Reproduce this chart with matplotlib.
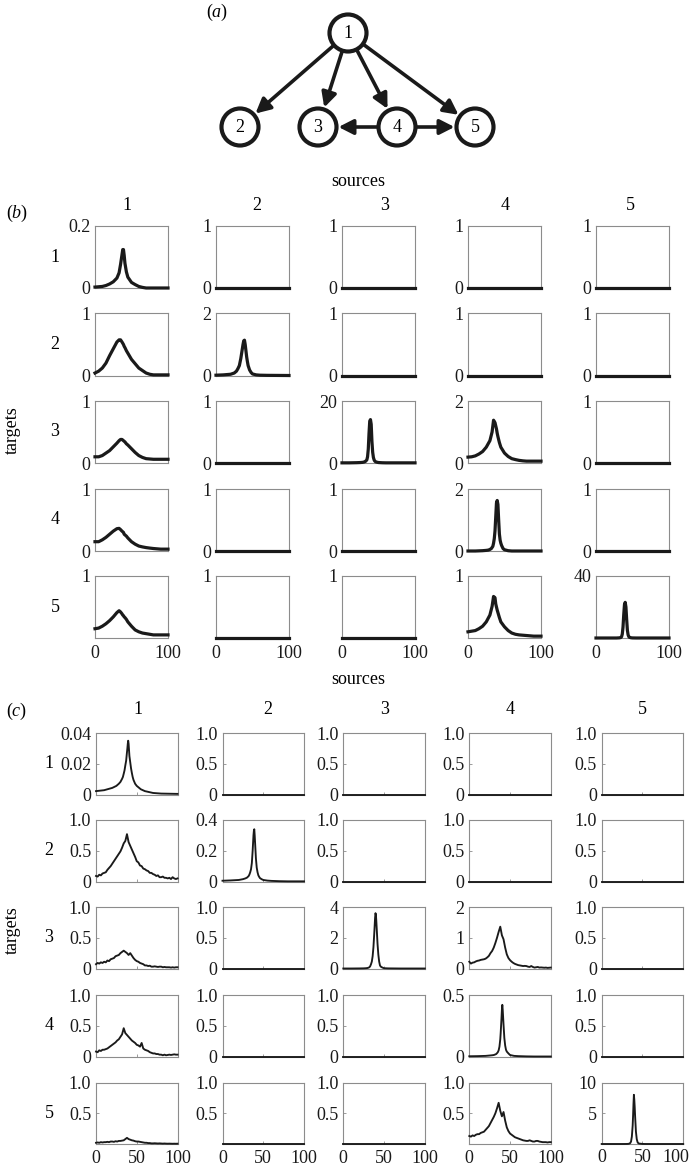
import numpy as np
import matplotlib
matplotlib.use("Agg")
import matplotlib.pyplot as plt
from matplotlib.patches import Circle, FancyArrowPatch

plt.rcParams['font.family'] = ['Liberation Serif', 'DejaVu Serif']
plt.rcParams['mathtext.fontset'] = 'custom'
plt.rcParams['mathtext.rm'] = 'Liberation Serif'
plt.rcParams['mathtext.it'] = 'Liberation Serif:italic'

W, H = 694, 1168
INK = '#1a1a1a'
FRAME = '#8c8c8c'
FS = 13

# ---- (a) network ----
nodes = [1, 2, 3, 4, 5]
edges = [(1, 2), (1, 3), (1, 4), (1, 5), (4, 3), (4, 5)]

# ---- (b) curves, sources in columns, targets in rows ----
xb_wide = [0, 5, 10, 15, 20, 25, 30, 33, 35, 37, 38, 39, 40, 41, 43, 45, 50, 55, 60, 65, 70, 75, 80, 90, 100]
b11 = [0.003, 0.004, 0.005, 0.008, 0.013, 0.02, 0.032, 0.049, 0.076, 0.108, 0.124, 0.124, 0.105, 0.08, 0.052,
       0.035, 0.018, 0.011, 0.005, 0.002, 0, 0, 0, 0, 0]
b21 = [0.04, 0.07, 0.12, 0.2, 0.32, 0.43, 0.54, 0.575, 0.575, 0.54, 0.52, 0.5, 0.47, 0.45, 0.4,
       0.36, 0.26, 0.19, 0.12, 0.08, 0.04, 0.02, 0.01, 0.01, 0.01]
b31 = [0.1, 0.1, 0.12, 0.16, 0.2, 0.26, 0.32, 0.36, 0.38, 0.38, 0.37, 0.36, 0.35, 0.34, 0.31,
       0.29, 0.23, 0.17, 0.12, 0.09, 0.07, 0.065, 0.06, 0.06, 0.06]
b41 = [0.15, 0.15, 0.18, 0.22, 0.27, 0.32, 0.36, 0.365, 0.345, 0.32, 0.31, 0.3, 0.27, 0.26, 0.24,
       0.21, 0.15, 0.11, 0.08, 0.066, 0.055, 0.047, 0.04, 0.03, 0.03]
b51 = [0.15, 0.16, 0.19, 0.23, 0.28, 0.34, 0.41, 0.44, 0.42, 0.39, 0.37, 0.36, 0.34, 0.33, 0.3,
       0.26, 0.19, 0.13, 0.1, 0.08, 0.07, 0.06, 0.05, 0.05, 0.05]
b34 = [0.19, 0.2, 0.23, 0.29, 0.37, 0.51, 0.72, 1.0, 1.38, 1.3, 1.2, 1.1, 0.96, 0.85, 0.66,
       0.51, 0.32, 0.21, 0.14, 0.11, 0.085, 0.07, 0.06, 0.06, 0.06]
b54 = [0.1, 0.11, 0.12, 0.15, 0.19, 0.26, 0.37, 0.51, 0.67, 0.65, 0.55, 0.5, 0.45, 0.41, 0.33,
       0.26, 0.18, 0.12, 0.08, 0.06, 0.05, 0.045, 0.04, 0.03, 0.03]

xb_narrow = [0, 10, 20, 25, 28, 30, 32, 34, 35, 36, 37, 38, 39, 40, 41, 42, 43, 44, 45, 46, 48, 50, 55, 60, 70, 100]
b22 = [0.01, 0.02, 0.04, 0.08, 0.14, 0.22, 0.32, 0.55, 0.7, 0.85, 1.0, 1.12, 1.14, 1.0, 0.8, 0.6, 0.45,
       0.32, 0.25, 0.18, 0.1, 0.05, 0.02, 0.01, 0.005, 0]
b33 = [0.05, 0.05, 0.1, 0.15, 0.2, 0.3, 0.5, 1.0, 2.0, 4.5, 9.5, 13.5, 14.0, 12.5, 7.0, 3.5, 1.8,
       1.0, 0.6, 0.4, 0.25, 0.15, 0.08, 0.05, 0.05, 0.05]
b44 = [0, 0, 0.01, 0.02, 0.03, 0.05, 0.08, 0.15, 0.25, 0.4, 0.65, 1.1, 1.55, 1.63, 1.5, 1.0, 0.55,
       0.35, 0.25, 0.18, 0.08, 0.04, 0.01, 0, 0, 0]
b55 = [0, 0, 0, 0, 0, 0.05, 0.1, 0.3, 0.8, 2.5, 7, 15, 21.5, 23, 20, 12, 5,
       2, 0.8, 0.4, 0.15, 0.05, 0, 0, 0, 0]

# ---- (c) curves ----
xc_wide = list(range(0, 101, 2))
c21 = [0.09, 0.08, 0.11, 0.1, 0.13, 0.14, 0.15, 0.19, 0.22, 0.25, 0.29, 0.33, 0.37, 0.41, 0.45, 0.49, 0.55,
       0.62, 0.66, 0.77, 0.64, 0.58, 0.52, 0.46, 0.4, 0.33, 0.31, 0.26, 0.25, 0.21, 0.2, 0.18, 0.17, 0.14,
       0.14, 0.12, 0.11, 0.09, 0.1, 0.07, 0.07, 0.08, 0.06, 0.06, 0.05, 0.06, 0.04, 0.07, 0.05, 0.04, 0.05]
c31 = [0.07, 0.09, 0.08, 0.1, 0.09, 0.11, 0.1, 0.13, 0.12, 0.15, 0.16, 0.17, 0.2, 0.21, 0.22, 0.25, 0.27,
       0.29, 0.27, 0.25, 0.22, 0.25, 0.21, 0.17, 0.14, 0.12, 0.11, 0.09, 0.08, 0.07, 0.05, 0.05, 0.04, 0.045,
       0.03, 0.03, 0.035, 0.03, 0.025, 0.03, 0.03, 0.02, 0.025, 0.02, 0.02, 0.02, 0.015, 0.02, 0.015, 0.02, 0.02]
c41 = [0.08, 0.07, 0.1, 0.09, 0.11, 0.11, 0.12, 0.13, 0.15, 0.17, 0.19, 0.21, 0.23, 0.26, 0.28, 0.32, 0.36,
       0.46, 0.38, 0.35, 0.32, 0.29, 0.26, 0.24, 0.22, 0.19, 0.18, 0.16, 0.22, 0.13, 0.11, 0.1, 0.09, 0.07,
       0.06, 0.05, 0.05, 0.04, 0.04, 0.03, 0.03, 0.02, 0.03, 0.02, 0.025, 0.03, 0.025, 0.03, 0.035, 0.03, 0.03]
c51 = [0.02, 0.025, 0.02, 0.03, 0.025, 0.03, 0.03, 0.035, 0.03, 0.04, 0.04, 0.035, 0.045, 0.04, 0.05, 0.05,
       0.055, 0.06, 0.08, 0.1, 0.08, 0.07, 0.06, 0.055, 0.045, 0.04, 0.04, 0.035, 0.03, 0.025, 0.02, 0.02,
       0.015, 0.015, 0.01, 0.01, 0.012, 0.01, 0.008, 0.01, 0.008, 0.006, 0.008, 0.006, 0.005, 0.006, 0.005,
       0.004, 0.005, 0.004, 0.005]
c34 = [0.22, 0.16, 0.19, 0.2, 0.23, 0.25, 0.26, 0.28, 0.29, 0.3, 0.32, 0.36, 0.41, 0.5, 0.57, 0.68, 0.83,
       1.0, 1.19, 1.36, 1.08, 0.95, 0.68, 0.46, 0.34, 0.27, 0.22, 0.18, 0.15, 0.13, 0.11, 0.1, 0.09, 0.08,
       0.085, 0.08, 0.06, 0.05, 0.08, 0.05, 0.03, 0.04, 0.05, 0.03, 0.035, 0.03, 0.025, 0.03, 0.02, 0.025, 0.03]
c54 = [0.13, 0.12, 0.14, 0.13, 0.15, 0.16, 0.16, 0.18, 0.19, 0.2, 0.23, 0.26, 0.29, 0.34, 0.39, 0.44, 0.5,
       0.58, 0.67, 0.54, 0.45, 0.52, 0.38, 0.27, 0.21, 0.17, 0.15, 0.13, 0.11, 0.1, 0.09, 0.08, 0.07, 0.06,
       0.055, 0.05, 0.05, 0.06, 0.05, 0.04, 0.04, 0.05, 0.05, 0.04, 0.035, 0.03, 0.03, 0.03, 0.025, 0.03, 0.03]

xc_narrow = [0, 10, 20, 25, 28, 30, 32, 33, 34, 35, 36, 37, 38, 38.5, 39, 39.5, 40, 40.5, 41, 42, 43, 44,
             45, 46, 48, 50, 55, 60, 70, 80, 90, 100]
c11 = [0.0022, 0.0028, 0.0043, 0.0056, 0.007, 0.0082, 0.0102, 0.0114, 0.0135, 0.0157, 0.019, 0.022, 0.0275,
       0.03, 0.033, 0.035, 0.033, 0.029, 0.025, 0.021, 0.017, 0.014, 0.0114, 0.0095, 0.007, 0.0056, 0.0034,
       0.0022, 0.001, 0.0006, 0.0005, 0.0004]
c22 = [0.005, 0.007, 0.01, 0.015, 0.02, 0.025, 0.035, 0.045, 0.06, 0.08, 0.12, 0.2, 0.3, 0.33, 0.34, 0.3,
       0.25, 0.2, 0.15, 0.09, 0.06, 0.04, 0.03, 0.022, 0.015, 0.01, 0.006, 0.004, 0.002, 0.001, 0.001, 0.001]
c33 = [0, 0, 0.005, 0.01, 0.02, 0.035, 0.08, 0.15, 0.28, 0.45, 0.8, 1.4, 2.3, 2.8, 3.3, 3.6, 3.5, 3.1, 2.6,
       1.6, 0.9, 0.45, 0.2, 0.12, 0.06, 0.02, 0.008, 0.005, 0, 0, 0, 0]
c44 = [0.002, 0.003, 0.005, 0.008, 0.01, 0.012, 0.017, 0.02, 0.027, 0.035, 0.05, 0.08, 0.14, 0.19, 0.25,
       0.31, 0.38, 0.42, 0.38, 0.26, 0.15, 0.09, 0.055, 0.04, 0.025, 0.012, 0.005, 0.003, 0.001, 0, 0, 0]
c55 = [0, 0, 0, 0, 0.003, 0.005, 0.015, 0.03, 0.07, 0.15, 0.4, 1.2, 3.0, 4.6, 6.5, 8.0, 7.2, 6.0, 4.5, 2.0,
       0.8, 0.3, 0.12, 0.07, 0.04, 0.01, 0, 0, 0, 0, 0, 0]

zero_x = [0, 100]
zero_y = [0, 0]

b_curves = {(1, 1): (xb_wide, b11), (2, 1): (xb_wide, b21), (3, 1): (xb_wide, b31), (4, 1): (xb_wide, b41),
            (5, 1): (xb_wide, b51), (3, 4): (xb_wide, b34), (5, 4): (xb_wide, b54), (2, 2): (xb_narrow, b22),
            (3, 3): (xb_narrow, b33), (4, 4): (xb_narrow, b44), (5, 5): (xb_narrow, b55)}
c_curves = {(1, 1): (xc_narrow, c11), (2, 1): (xc_wide, c21), (3, 1): (xc_wide, c31), (4, 1): (xc_wide, c41),
            (5, 1): (xc_wide, c51), (3, 4): (xc_wide, c34), (5, 4): (xc_wide, c54), (2, 2): (xc_narrow, c22),
            (3, 3): (xc_narrow, c33), (4, 4): (xc_narrow, c44), (5, 5): (xc_narrow, c55)}

# y-axis tops (as printed)
b_scale = [["0.2", "1", "1", "1", "1"],
           ["1", "2", "1", "1", "1"],
           ["1", "1", "20", "2", "1"],
           ["1", "1", "1", "2", "1"],
           ["1", "1", "1", "1", "40"]]
c_scale = [["0.04", "1.0", "1.0", "1.0", "1.0"],
           ["1.0", "0.4", "1.0", "1.0", "1.0"],
           ["1.0", "1.0", "4", "2", "1.0"],
           ["1.0", "1.0", "1.0", "0.5", "1.0"],
           ["1.0", "1.0", "1.0", "1.0", "10"]]
c_tick_labels = {"0.04": ["0", "0.02", "0.04"], "1.0": ["0", "0.5", "1.0"], "0.4": ["0", "0.2", "0.4"],
                 "4": ["0", "2", "4"], "2": ["0", "1", "2"], "0.5": ["0", "0.5"], "10": ["0", "5", "10"]}
c_xtick_labels = ["0", "50", "100"]

fig = plt.figure(figsize=(W / 100, H / 100), dpi=100)


def panel(left, top, width, height):
    return fig.add_axes([left / W, 1 - (top + height) / H, width / W, height / H])


def ftext(x, y, s, ha='center', **kw):
    fig.text(x / W, 1 - y / H, s, ha=ha, va='center', fontsize=FS, **kw)


def frame(ax):
    for sp in ax.spines.values():
        sp.set_color(FRAME)
        sp.set_linewidth(0.8)


# ---- (a) network drawing ----
ax0 = fig.add_axes([0, 0, 1, 1])
ax0.set_xlim(0, W)
ax0.set_ylim(H, 0)
ax0.axis('off')
node_pos = {1: (348, 33), 2: (240, 127), 3: (318, 127), 4: (397, 127), 5: (475, 127)}
R = 18.5
for n in nodes:
    cx, cy = node_pos[n]
    ax0.add_patch(Circle((cx, cy), R, facecolor='white', edgecolor=INK, lw=3.0, zorder=3))
    ax0.text(cx, cy + 1, str(n), ha='center', va='center', fontsize=FS, zorder=4)
for a, b in edges:
    pa = np.array(node_pos[a], float)
    pb = np.array(node_pos[b], float)
    u = (pb - pa) / np.linalg.norm(pb - pa)
    arr = FancyArrowPatch(pa + u * (R + 1), pb - u * (R + 2),
                          arrowstyle='-|>,head_length=0.55,head_width=0.28', mutation_scale=16,
                          lw=2.6, color=INK, shrinkA=0, shrinkB=0, zorder=2)
    ax0.add_patch(arr)
ftext(217, 12, r'$(\mathit{a})$')

# ---- (b) grid ----
b_lefts = [95, 216, 342, 468, 596]
b_tops = [226, 313.5, 401, 489, 576]
bw, bh = 73, 62
for i in range(5):
    for j in range(5):
        ax = panel(b_lefts[j], b_tops[i], bw, bh)
        x, y = b_curves.get((i + 1, j + 1), (zero_x, zero_y))
        top = float(b_scale[i][j])
        ax.plot(x, y, color=INK, lw=2.3, clip_on=False, zorder=3)
        ax.set_xlim(0, 100)
        ax.set_ylim(0, top)
        ax.set_yticks([0, top])
        ax.set_yticklabels(["0" if i < 4 else "", b_scale[i][j]])
        ax.set_xticks([0, 100])
        if i == 4:
            ax.set_xticklabels(["0", "100"])
        else:
            ax.set_xticklabels([])
        ax.tick_params(length=0, labelsize=FS, colors=INK)
        ax.tick_params(axis='y', pad=3.5)
        ax.tick_params(axis='x', pad=5)
        frame(ax)

ftext(358, 181, 'sources')
ftext(17, 213, r'$(\mathit{b})$')
for j, xh in enumerate([127, 257, 385, 505, 630]):
    ftext(xh, 206, str(j + 1))
for i in range(5):
    ftext(55, b_tops[i] + bh / 2, str(i + 1))
ftext(12, 430, 'targets', rotation=90)

# ---- (c) grid ----
c_lefts = [96, 222.5, 343.3, 469.3, 601.7]
c_tops = [733, 820, 907, 995, 1082.5]
cw, ch = 81.5, 61.5
for i in range(5):
    for j in range(5):
        ax = panel(c_lefts[j], c_tops[i], cw, ch)
        x, y = c_curves.get((i + 1, j + 1), (zero_x, zero_y))
        key = c_scale[i][j]
        labels = list(c_tick_labels[key])
        if i == 4:
            labels[0] = ""
        ax.plot(x, y, color=INK, lw=1.35, clip_on=False, zorder=3)
        ax.set_xlim(0, 100)
        ax.set_ylim(0, float(key))
        ax.set_yticks([float(s) for s in c_tick_labels[key]])
        ax.set_yticklabels(labels)
        ax.set_xticks([0, 50, 100])
        if i == 4 and j < 4:
            ax.set_xticklabels(c_xtick_labels)
        else:
            ax.set_xticklabels([])
        ax.tick_params(direction='in', length=2, width=0.6, color=FRAME, labelsize=FS, labelcolor=INK)
        ax.tick_params(axis='y', pad=3.5)
        ax.tick_params(axis='x', pad=4)
        frame(ax)

# last column's x labels placed by hand so "100" stays inside the figure
ftext(c_lefts[4], 1158, c_xtick_labels[0], color=INK)
ftext(c_lefts[4] + cw / 2, 1158, c_xtick_labels[1], color=INK)
ftext(689, 1158, c_xtick_labels[2], ha='right', color=INK)

ftext(358, 680, 'sources')
ftext(17, 711, r'$(\mathit{c})$')
for j, xh in enumerate([138, 268, 385, 510, 642]):
    ftext(xh, 710, str(j + 1))
for i in range(5):
    ftext(49, c_tops[i] + ch / 2, str(i + 1))
ftext(12, 930, 'targets', rotation=90)

fig.savefig('out.png', dpi=100)
